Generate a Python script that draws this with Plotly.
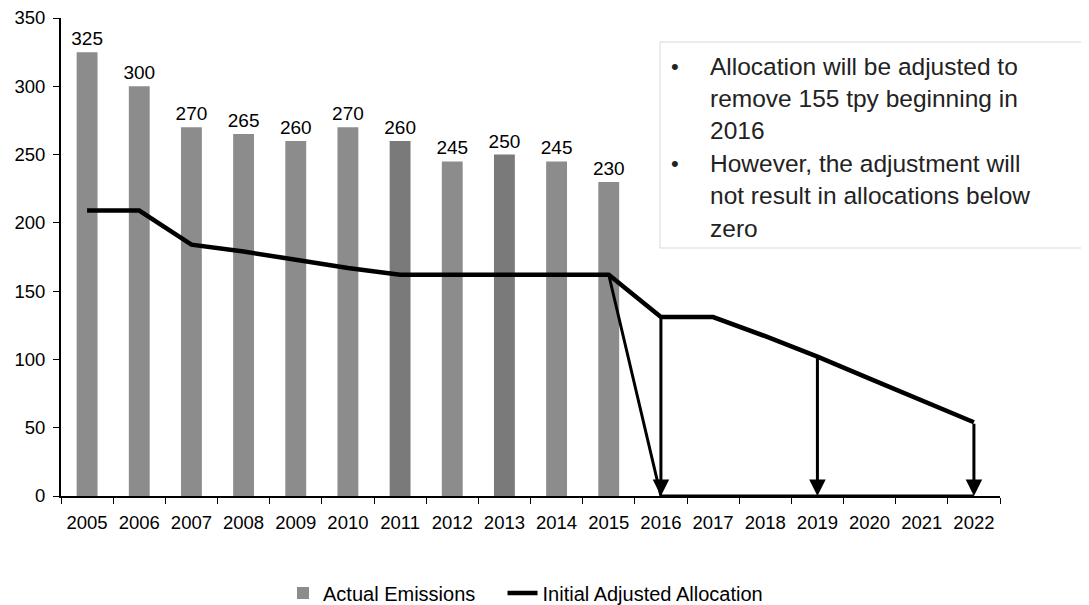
import plotly.graph_objects as go

years = list(range(2005, 2023))
emission_years = list(range(2005, 2016))
emissions = [325, 300, 270, 265, 260, 270, 260, 245, 250, 245, 230]
bar_colors = ["#8c8c8c"] * 6 + ["#7a7a7a", "#8c8c8c", "#7a7a7a", "#8c8c8c", "#8c8c8c"]
allocation = [209, 209, 184, 179, 173, 167, 162, 162, 162, 162, 162, 131, 131, 117, 102, 86, 70, 54]
adjusted_years = list(range(2015, 2023))
adjusted = [162, 0, 0, 0, 0, 0, 0, 0]
arrow_years = [2016, 2019, 2022]
box_lines = [
    ("•", "Allocation will be adjusted to"),
    ("", "remove 155 tpy beginning in"),
    ("", "2016"),
    ("•", "However, the adjustment will"),
    ("", "not result in allocations below"),
    ("", "zero"),
]

FONT = "Liberation Sans, Arial, sans-serif"

# plot area in figure pixels
L, R, T, B = 53, 992, 10, 488
W, H = 1089, 605
PW, PH = R - L, B - T


def px(x):
    return (x - L) / PW


def py(y):
    return (B - y) / PH


fig = go.Figure()
fig.add_trace(go.Bar(
    x=emission_years, y=emissions, name="Actual Emissions\u00a0\u00a0\u00a0\u00a0",
    marker=dict(color=bar_colors, line=dict(width=0)),
    width=0.4, text=[str(v) for v in emissions], textposition="outside",
    constraintext="none",
    textfont=dict(size=19, color="#000000", family=FONT), cliponaxis=False,
))
fig.add_trace(go.Scatter(
    x=adjusted_years, y=adjusted, mode="lines", showlegend=False,
    line=dict(color="#000000", width=3), cliponaxis=False,
))
fig.add_trace(go.Scatter(
    x=years, y=allocation, mode="lines", name="Initial Adjusted Allocation",
    line=dict(color="#000000", width=4.5),
))

alloc_map = dict(zip(years, allocation))
for yr in arrow_years:
    fig.add_annotation(
        x=yr, y=0, ax=yr, ay=alloc_map[yr], xref="x", yref="y", axref="x", ayref="y",
        showarrow=True, arrowhead=2, arrowsize=1.1, arrowwidth=3, arrowcolor="#000000", text="",
    )

# text box
fig.add_shape(type="rect", xref="paper", yref="paper", x0=px(652), x1=px(1100), y0=py(240), y1=py(34),
              line=dict(color="#d9d9d9", width=1), fillcolor="#ffffff", layer="above")
for i, (bullet, txt) in enumerate(box_lines):
    yy = py(58 + i * 32.4)
    if bullet:
        fig.add_annotation(x=px(667), y=yy, xref="paper", yref="paper", text=bullet,
                           showarrow=False, xanchor="center", yanchor="middle",
                           font=dict(size=22, color="#222222", family=FONT))
    fig.add_annotation(x=px(700), y=yy, xref="paper", yref="paper", text=txt,
                       showarrow=False, xanchor="left", yanchor="middle",
                       font=dict(size=24.5, color="#222222", family=FONT))

fig.update_layout(
    width=W, height=H,
    margin=dict(l=L, r=W - R, t=T, b=H - B, autoexpand=False),
    plot_bgcolor="#ffffff", paper_bgcolor="#ffffff",
    font=dict(family=FONT, color="#000000", size=18),
    showlegend=True,
    legend=dict(orientation="h", x=px(275), xanchor="left", y=py(585), yanchor="middle",
                font=dict(size=20, family=FONT), itemwidth=30, traceorder="normal"),
)
fig.update_xaxes(
    range=[2004.5, 2022.5], tickmode="array", tickvals=years, ticktext=[str(y) for y in years],
    ticks="", showline=True, linecolor="#000000", linewidth=2, showgrid=False, zeroline=False,
    tickfont=dict(size=18.5, family=FONT), ticklabelstandoff=9,
    minor=dict(tickmode="linear", tick0=2004.5, dtick=1, ticks="outside", ticklen=6,
               tickcolor="#000000", tickwidth=1, showgrid=False),
)
fig.update_yaxes(
    range=[0, 350], dtick=50, ticks="outside", ticklen=6, tickcolor="#000000",
    showline=True, linecolor="#000000", linewidth=2, showgrid=False, zeroline=False,
    tickfont=dict(size=18.5, family=FONT), ticklabeloverflow="allow", ticklabelstandoff=4,
)

fig.write_html("out.html")
